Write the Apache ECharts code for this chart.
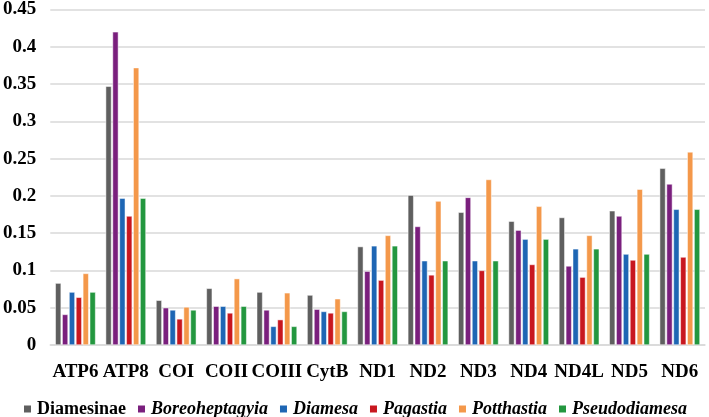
<!DOCTYPE html>
<html><head><meta charset="utf-8">
<script src="https://cdn.jsdelivr.net/npm/echarts@6/dist/echarts.min.js"></script>
<style>html,body{margin:0;padding:0;background:#fff}#c{width:709px;height:417px}</style>
</head><body><div id="c"></div>
<script>
const categories = ['ATP6','ATP8','COI','COII','COIII','CytB','ND1','ND2','ND3','ND4','ND4L','ND5','ND6'];
const seriesNames = ['Diamesinae','Boreoheptagyia','Diamesa','Pagastia','Potthastia','Pseudodiamesa'];
const diamesinae     = [0.083,0.347,0.060,0.076,0.071,0.067,0.132,0.201,0.178,0.166,0.171,0.180,0.237];
const boreoheptagyia = [0.041,0.420,0.050,0.052,0.047,0.048,0.099,0.159,0.198,0.154,0.106,0.173,0.216];
const diamesa        = [0.071,0.197,0.047,0.052,0.025,0.045,0.133,0.113,0.113,0.142,0.129,0.122,0.182];
const pagastia       = [0.064,0.173,0.035,0.043,0.034,0.043,0.087,0.094,0.100,0.108,0.091,0.114,0.118];
const potthastia     = [0.096,0.372,0.051,0.089,0.070,0.062,0.147,0.193,0.222,0.186,0.147,0.209,0.259];
const pseudodiamesa  = [0.071,0.197,0.047,0.052,0.025,0.045,0.133,0.113,0.113,0.142,0.129,0.122,0.182];
const allValues = [diamesinae,boreoheptagyia,diamesa,pagastia,potthastia,pseudodiamesa];
const colors = ['#5f5f5f','#7a1f7d','#1e66b4','#c8171f','#f4984a','#23973f'];
const FONT = 'Liberation Serif';

const chart = echarts.init(document.getElementById('c'));
chart.setOption({
  animation:false,
  textStyle:{fontFamily:FONT},
  grid:{left:48,right:4,top:7,bottom:72},
  legend:{
    bottom:-6,left:'center',icon:'rect',itemWidth:9,itemHeight:9,itemGap:10,
    data:seriesNames.map(n=>({name:n,textStyle:{
      fontFamily:FONT,fontWeight:'bold',fontSize:18,color:'#000',
      fontStyle: n==='Diamesinae' ? 'normal' : 'italic'}})),
    textStyle:{fontFamily:FONT,fontWeight:'bold',fontSize:18,color:'#000'}
  },
  xAxis:{type:'category',data:categories,
    axisLine:{lineStyle:{color:'#d9d9d9',width:1.5}},axisTick:{show:false},
    axisLabel:{fontFamily:FONT,fontWeight:'bold',fontSize:19,color:'#000',margin:18,interval:0}},
  yAxis:{type:'value',min:0,max:0.45,interval:0.05,
    axisLabel:{fontFamily:FONT,fontWeight:'bold',fontSize:19,color:'#000',margin:14,
      formatter:v=>String(+v.toFixed(2))},
    splitLine:{lineStyle:{color:'#d9d9d9',width:1.5}},axisLine:{show:false},axisTick:{show:false}},
  series:seriesNames.map((n,i)=>({
    name:n,type:'bar',data:allValues[i],
    barGap:'18%',barCategoryGap:'20%',
    itemStyle:{color:colors[i],borderColor:'#fff',borderWidth:0.5}
  }))
});
</script></body></html>
